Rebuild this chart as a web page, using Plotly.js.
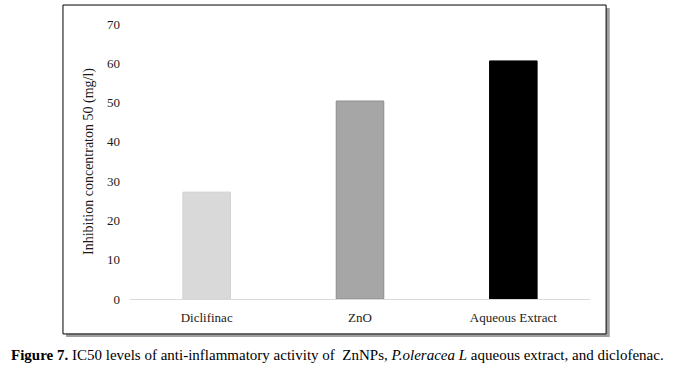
<!DOCTYPE html>
<html>
<head>
<meta charset="utf-8">
<script src="https://cdn.plot.ly/plotly-3.0.1.min.js"></script>
<style>html,body{margin:0;padding:0;background:#fff;}#chart{width:684px;height:366px;}</style>
</head>
<body>
<div id="chart"></div>
<script>
const categories = ["Diclifinac", "ZnO", "Aqueous Extract"];
const ic50Values = [27.2, 50.4, 60.6];
const barColors = ["#d9d9d9", "#a6a6a6", "#000000"];
const barLineColors = ["#d0d0d0", "#8c8c8c", "#000000"];
const yTickValues = [0, 10, 20, 30, 40, 50, 60, 70];

const serif = "'Liberation Serif', 'Times New Roman', serif";

const trace = {
  type: "bar",
  x: categories,
  y: ic50Values,
  width: 0.31,
  marker: {color: barColors, line: {color: barLineColors, width: 1}},
  hoverinfo: "skip"
};

const layout = {
  width: 684, height: 366,
  margin: {l: 130, r: 94, t: 24, b: 67, pad: 0},
  paper_bgcolor: "#ffffff",
  plot_bgcolor: "rgba(0,0,0,0)",
  showlegend: false,
  xaxis: {
    type: "category",
    showgrid: false,
    showline: true, linecolor: "#d9d9d9", linewidth: 1,
    ticks: "", zeroline: false,
    tickfont: {family: serif, size: 13, color: "#1a1a1a"},
    ticklabelstandoff: 6
  },
  yaxis: {
    range: [0, 70],
    tickvals: yTickValues,
    showgrid: false, zeroline: false, showline: false,
    ticks: "",
    tickfont: {family: serif, size: 13, color: "#1a1a1a"},
    ticklabelstandoff: 9,
    title: {text: "Inhibition concentraton 50 (mg/l)", font: {family: serif, size: 14, color: "#1a1a1a"}, standoff: 10}
  },
  shapes: [
    {type: "rect", xref: "paper", yref: "paper", x0: -0.139, x1: 1.043, y0: -0.138, y1: 1.058,
     line: {width: 0}, fillcolor: "#a0a0a0", layer: "below"},
    {type: "rect", xref: "paper", yref: "paper", x0: -0.1457, x1: 1.035, y0: -0.127, y1: 1.069,
     line: {color: "#000000", width: 1}, fillcolor: "#ffffff", layer: "below"}
  ],
  annotations: [
    {xref: "paper", yref: "paper", x: 0.451, y: -0.205, xanchor: "center", yanchor: "middle", showarrow: false,
     text: "<b>Figure 7.</b> IC50 levels of anti-inflammatory activity of  ZnNPs, <i>P.oleracea L</i> aqueous extract, and diclofenac.",
     font: {family: serif, size: 15, color: "#000000"}}
  ]
};

Plotly.newPlot("chart", [trace], layout, {displayModeBar: false, staticPlot: true});
</script>
</body>
</html>
